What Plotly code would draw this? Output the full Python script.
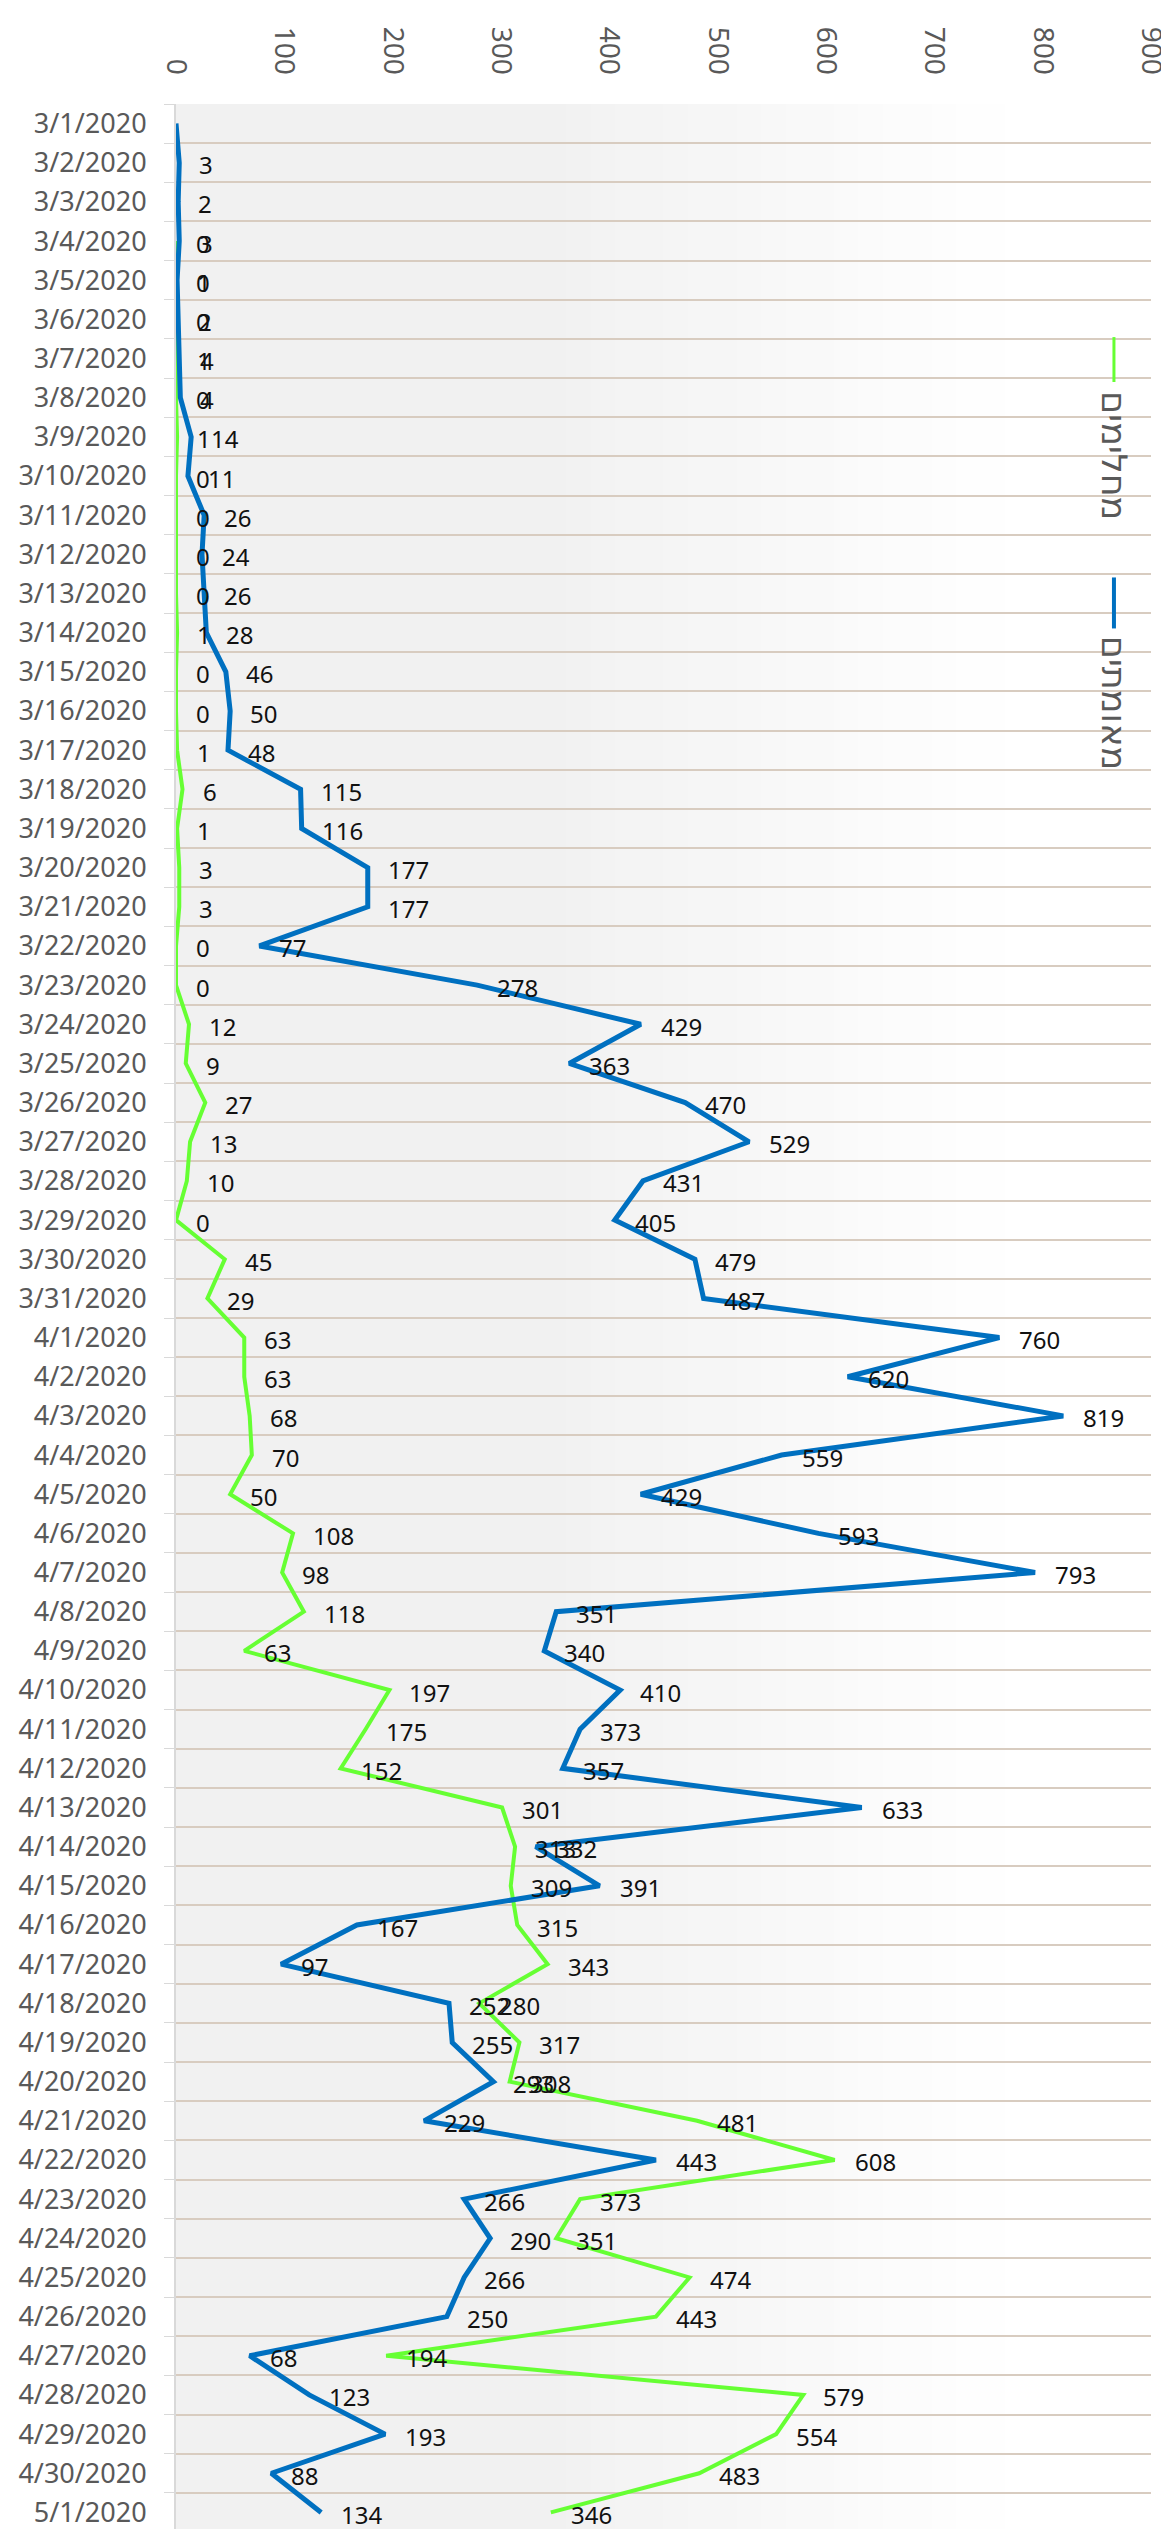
import plotly.graph_objects as go
import pandas as pd

# ---- data ----
dates = [f"{d.month}/{d.day}/{d.year}" for d in pd.date_range("2020-03-01", "2020-05-01")]

confirmed = [0, 3, 2, 3, 1, 2, 4, 4, 14, 11, 26, 24, 26, 28, 46, 50, 48, 115, 116, 177, 177, 77, 278,
             429, 363, 470, 529, 431, 405, 479, 487,
             760, 620, 819, 559, 429, 593, 793, 351, 340, 410, 373, 357, 633, 332, 391, 167, 97, 252,
             255, 293, 229, 443, 266, 290, 266, 250, 68, 123, 193, 88,
             134]
recovered = [None, None, None, 0, 0, 0, 1, 0, 1, 0, 0, 0, 0, 1, 0, 0, 1, 6, 1, 3, 3, 0, 0,
             12, 9, 27, 13, 10, 0, 45, 29,
             63, 63, 68, 70, 50, 108, 98, 118, 63, 197, 175, 152, 301, 313, 309, 315, 343, 280,
             317, 308, 481, 608, 373, 351, 474, 443, 194, 579, 554, 483,
             346]
confirmed_labels_from = 1   # first point has no label
series_names = ["מאומתים", "מחלימים"]
x_ticks = list(range(0, 1000, 100))

BLUE = "#0070C0"
GREEN = "#66FF33"

fig = go.Figure()
fig.add_trace(go.Scatter(x=recovered, y=dates, mode="lines", name=series_names[1],
                         line=dict(color=GREEN, width=4), connectgaps=False))
fig.add_trace(go.Scatter(x=confirmed, y=dates, mode="lines", name=series_names[0],
                         line=dict(color=BLUE, width=5)))

label_font = dict(family="Noto Sans", size=24, color="#111111")
annotations = []
for d, v in zip(dates, recovered):
    if v is None:
        continue
    annotations.append(dict(x=v, y=d, xref="x", yref="y", text=str(v), showarrow=False,
                            xanchor="left", xshift=18, yshift=-2, font=label_font))
for i, (d, v) in enumerate(zip(dates, confirmed)):
    if i < confirmed_labels_from:
        continue
    annotations.append(dict(x=v, y=d, xref="x", yref="y", text=str(v), showarrow=False,
                            xanchor="left", xshift=18, yshift=-2, font=label_font))

# rotated legend
legend_font = dict(family="DejaVu Sans", size=35, color="#595959")
annotations.append(dict(x=0.962, y=0.855, xref="paper", yref="paper", text=series_names[1],
                        textangle=90, showarrow=False, xanchor="center", yanchor="middle",
                        font=legend_font))
annotations.append(dict(x=0.962, y=0.753, xref="paper", yref="paper", text=series_names[0],
                        textangle=90, showarrow=False, xanchor="center", yanchor="middle",
                        font=legend_font))

shapes = []
# background gradient (light grey on the left fading to white)
n = 40
for k in range(n):
    t = k / (n - 1)
    if t < 0.35:
        c = 241
    else:
        c = int(241 + (255 - 241) * min(1.0, (t - 0.35) / 0.5))
    shapes.append(dict(type="rect", xref="x domain", yref="y domain",
                       x0=k / n, x1=(k + 1) / n + 0.002, y0=0, y1=1,
                       fillcolor=f"rgb({c},{c},{c})", line=dict(width=0), layer="below"))
shapes.append(dict(type="line", xref="paper", yref="paper", x0=0.962, x1=0.962,
                   y0=0.8855, y1=0.904, line=dict(color=GREEN, width=3)))
shapes.append(dict(type="line", xref="paper", yref="paper", x0=0.962, x1=0.962,
                   y0=0.784, y1=0.805, line=dict(color=BLUE, width=4)))

fig.update_layout(
    width=1169, height=2529,
    margin=dict(l=168, r=21, t=96, b=5),
    paper_bgcolor="white",
    plot_bgcolor="rgba(0,0,0,0)",
    showlegend=False,
    annotations=annotations,
    shapes=shapes,
    xaxis=dict(side="top", range=[0, 900], tickvals=x_ticks, tickangle=90,
               showgrid=False, zeroline=False, showline=False, ticks="",
               ticklabelstandoff=24,
               tickfont=dict(family="Noto Sans", size=28, color="#595959")),
    yaxis=dict(type="category", categoryorder="array", categoryarray=dates,
               range=[len(dates) - 0.5, -0.5], autorange=False, showgrid=True,
               gridcolor="#d8ccc0", gridwidth=2,
               showline=True, linecolor="#d9d9d9", linewidth=2,
               ticks="outside", tickson="boundaries", ticklen=10, tickcolor="#d9d9d9",
               ticklabelstandoff=22,
               tickfont=dict(family="Noto Sans", size=27, color="#595959")),
)

fig.write_html("out.html")
